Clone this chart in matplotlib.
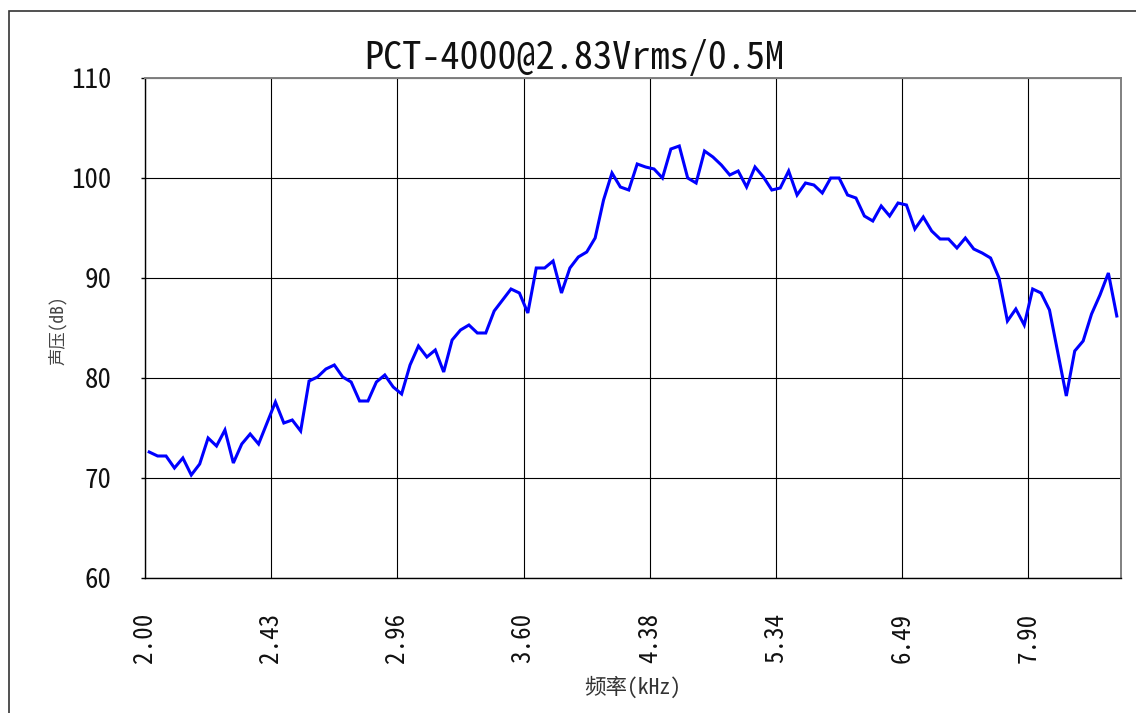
import matplotlib
matplotlib.use("Agg")
import matplotlib.pyplot as plt
from matplotlib import font_manager as fm
from matplotlib.patches import Rectangle
import numpy as np

# ---- data ----
title = "PCT-4000@2.83Vrms/0.5M"
xlabel = "频率(kHz)"
ylabel = "声压(dB)"
tick_labels = ["2.00", "2.43", "2.96", "3.60", "4.38", "5.34", "6.49", "7.90"]
points_per_tick = 15
y_ticks = [60, 70, 80, 90, 100, 110]
spl = [
    72.6, 72.2, 72.2, 71.0, 72.0, 70.3, 71.4, 74.0, 73.2, 74.8,
    71.5, 73.4, 74.4, 73.4, 75.5, 77.6, 75.5, 75.8, 74.7, 79.7,
    80.1, 80.9, 81.3, 80.1, 79.6, 77.7, 77.7, 79.6, 80.3, 79.1,
    78.4, 81.3, 83.2, 82.1, 82.8, 80.6, 83.8, 84.8, 85.3, 84.5,
    84.5, 86.7, 87.8, 88.9, 88.5, 86.5, 91.0, 91.0, 91.7, 88.5,
    91.0, 92.1, 92.6, 94.0, 97.8, 100.5, 99.1, 98.8, 101.4, 101.1,
    100.9, 100.0, 102.9, 103.2, 100.0, 99.5, 102.7, 102.1, 101.3, 100.3,
    100.7, 99.1, 101.1, 100.1, 98.8, 99.0, 100.7, 98.3, 99.5, 99.3,
    98.5, 100.0, 100.0, 98.3, 98.0, 96.2, 95.7, 97.2, 96.2, 97.5,
    97.3, 94.9, 96.1, 94.7, 93.9, 93.9, 93.0, 94.0, 92.9, 92.5,
    92.0, 90.0, 85.7, 86.9, 85.3, 88.9, 88.5, 86.8, 82.5, 78.2,
    82.7, 83.7, 86.4, 88.3, 90.5, 86.2,
]


def pick(cands):
    for c in cands:
        try:
            fm.findfont(fm.FontProperties(family=c), fallback_to_default=False)
            return c
        except Exception:
            pass
    return None


mono_cjk = pick(["Noto Sans Mono CJK SC", "Noto Sans Mono CJK JP", "Noto Sans Mono CJK TC"])
if mono_cjk:
    fam = [mono_cjk, "DejaVu Sans"]
    title_size, ytick_size, xtick_size = 27.5, 19.5, 18
else:
    fam = ["DejaVu Sans Mono", "Noto Sans CJK SC", "DejaVu Sans"]
    title_size, ytick_size, xtick_size = 22.5, 17, 15.5
cjk = ["Noto Sans CJK SC", "DejaVu Sans"]

plt.rcParams["font.family"] = fam
plt.rcParams["font.weight"] = "light"

W, H = 1136, 713
fig = plt.figure(figsize=(W / 100, H / 100), dpi=100)
fig.patch.set_facecolor("white")

L, R, T, B = 145, 1121, 78, 578
ax = fig.add_axes([L / W, 1 - B / H, (R - L) / W, (B - T) / H])

n = len(spl)
x = np.arange(n)
ax.plot(x, spl, color="#0000FF", lw=2.2, solid_joinstyle="miter", zorder=3)

ax.set_xlim(-0.5, n - 0.5)
ax.set_ylim(y_ticks[0], y_ticks[-1])
tick_pos = [-0.5 + points_per_tick * k for k in range(len(tick_labels))]
ax.set_xticks(tick_pos)
ax.set_xticklabels(tick_labels, rotation=90, fontsize=xtick_size, va="top", ha="center",
                   color="#111111")
ax.set_yticks(y_ticks)
ax.set_yticklabels([str(v) for v in y_ticks], fontsize=ytick_size, color="#111111")

ax.tick_params(axis="x", length=0, pad=25)
ax.tick_params(axis="y", length=3, width=1, direction="out", pad=21)

ax.grid(True, color="black", lw=0.8)
ax.set_axisbelow(True)

for side in ("left", "bottom"):
    ax.spines[side].set_color("black")
    ax.spines[side].set_linewidth(1.0)
for side in ("top", "right"):
    ax.spines[side].set_color("#808080")
    ax.spines[side].set_linewidth(1.4)

fig.text(574 / W, 1 - 58 / H, title, fontsize=title_size, ha="center", va="center",
         color="#111111")
fig.text(633 / W, 1 - 688 / H, xlabel, fontsize=15.5, ha="center", va="center",
         color="#333333", family=fam if mono_cjk else cjk)
fig.text(58 / W, 1 - 330 / H, ylabel, fontsize=12.5, ha="center", va="center",
         rotation=90, color="#444444", family=fam if mono_cjk else cjk)

border = Rectangle((9 / W, -0.05), 1.2, (1 - 11 / H) + 0.05, transform=fig.transFigure,
                   fill=False, edgecolor="#333333", lw=1.2, clip_on=False)
fig.patches.append(border)

fig.savefig("out.png", dpi=100)
